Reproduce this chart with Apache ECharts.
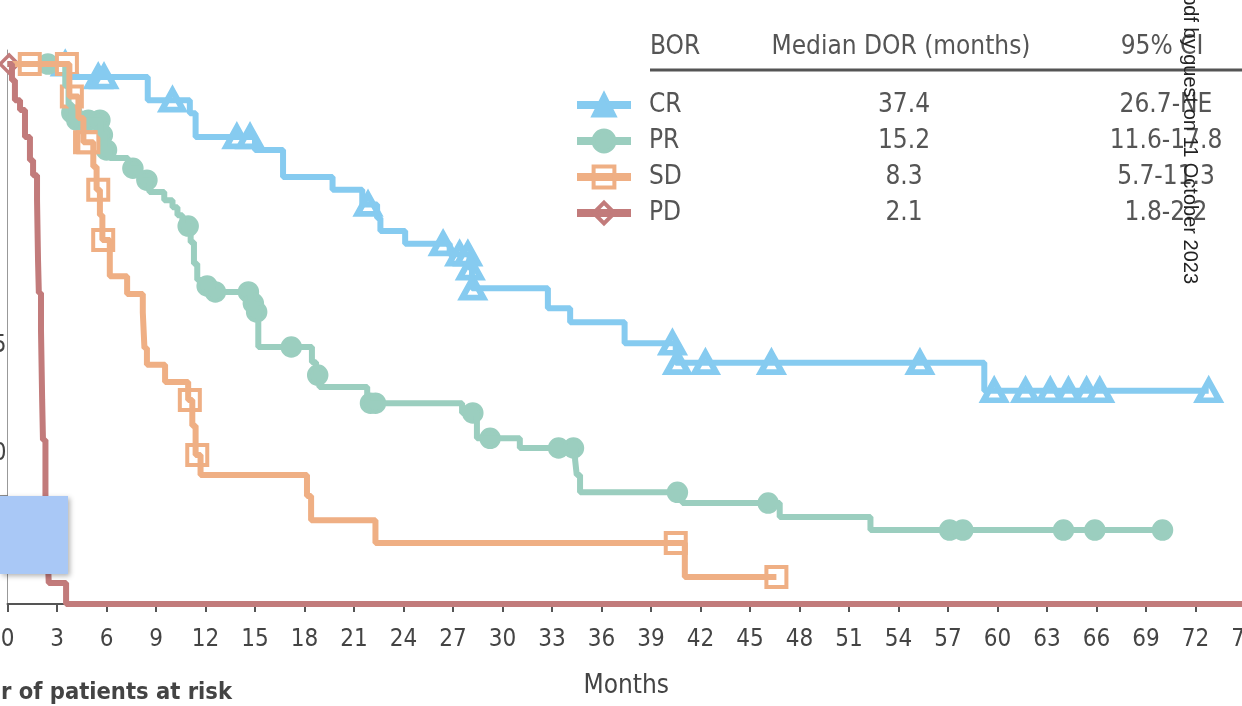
<!DOCTYPE html>
<html>
<head>
<meta charset="utf-8">
<script src="https://cdn.jsdelivr.net/npm/echarts@6/dist/echarts.min.js"></script>
<style>
  html, body { margin: 0; padding: 0; background: #ffffff; }
  #chart { width: 1242px; height: 706px; }
</style>
</head>
<body>
<div id="chart"></div>
<script>
// Duration of response by best overall response (Kaplan–Meier)
const FONT = '"DejaVu Sans Condensed", "DejaVu Sans", sans-serif';

const groups = ['CR', 'PR', 'SD', 'PD'];
const medianDOR = ['37.4', '15.2', '8.3', '2.1'];
const ciDOR = ['26.7-NE', '11.6-17.8', '5.7-11.3', '1.8-2.2'];
const tableHeaders = ['BOR', 'Median DOR (months)', '95% CI'];

// x axis: months
const xMin = 0, xMax = 75, xStep = 3;
// y axis: probability (axis drawn slightly beyond 0..1)
const yMin = -0.011, yMax = 1.026;
const yTickValues = [0.2];
const yLabelValues = [0.5, 0.3];
const yLabelTexts = ['0.5', '0.30'];

// step curves: time of each change (months) and survival from that time
const crTimes = [0, 3.65, 8.5, 11.05, 11.4, 15.0, 16.7, 19.7, 21.5, 22.4, 22.6, 24.1, 26.8, 28.0, 28.15, 32.75, 34.1, 37.4, 40.5, 59.2, 72.8];
const crSurv  = [1.0, 0.976, 0.933, 0.909, 0.865, 0.841, 0.791, 0.767, 0.740, 0.715, 0.691, 0.667, 0.648, 0.622, 0.585, 0.548, 0.522, 0.483, 0.447, 0.395, 0.395];
const crCensTimes = [3.5, 5.5, 5.85, 10.0, 13.9, 14.7, 21.85, 26.4, 27.4, 27.9, 28.05, 28.2, 40.3, 40.6, 42.3, 46.3, 55.3, 59.8, 61.7, 63.2, 64.3, 65.4, 66.2, 72.8];
const crCensSurv  = [1.0, 0.976, 0.976, 0.933, 0.865, 0.865, 0.740, 0.667, 0.648, 0.648, 0.622, 0.585, 0.483, 0.447, 0.447, 0.447, 0.447, 0.395, 0.395, 0.395, 0.395, 0.395, 0.395, 0.395];

const prTimes = [0, 3.5, 3.7, 3.9, 5.65, 5.9, 6.2, 7.3, 8.0, 8.6, 9.5, 10.0, 10.3, 10.6, 11.1, 11.3, 11.5, 12.0, 12.4, 14.75, 15.0, 15.2, 18.45, 18.7, 18.9, 21.8, 27.55, 28.45, 31.05, 34.4, 34.5, 34.7, 40.9, 46.8, 52.3, 70.0];
const prSurv  = [1.0, 0.96, 0.925, 0.896, 0.869, 0.841, 0.826, 0.807, 0.785, 0.763, 0.748, 0.735, 0.72, 0.70, 0.67, 0.63, 0.60, 0.589, 0.578, 0.557, 0.541, 0.476, 0.448, 0.424, 0.402, 0.372, 0.354, 0.307, 0.289, 0.267, 0.239, 0.207, 0.187, 0.161, 0.137, 0.137];
const prCensTimes = [1.4, 2.45, 3.9, 4.2, 4.9, 5.6, 5.75, 6.0, 7.6, 8.45, 10.95, 12.1, 12.6, 14.6, 14.9, 15.1, 17.2, 18.8, 22.0, 22.3, 28.2, 29.25, 33.4, 34.3, 40.6, 46.1, 57.1, 57.9, 64.0, 65.9, 70.0];
const prCensSurv  = [1.0, 1.0, 0.91, 0.896, 0.896, 0.896, 0.869, 0.841, 0.807, 0.785, 0.70, 0.589, 0.578, 0.578, 0.557, 0.541, 0.476, 0.424, 0.372, 0.372, 0.354, 0.307, 0.289, 0.289, 0.207, 0.187, 0.137, 0.137, 0.137, 0.137, 0.137];

const sdTimes = [0, 3.75, 4.3, 4.6, 5.2, 5.4, 5.6, 5.75, 6.2, 7.25, 8.2, 8.3, 8.45, 9.55, 10.95, 11.2, 11.4, 11.7, 18.15, 18.4, 22.3, 41.05, 46.6];
const sdSurv  = [1.0, 0.94, 0.90, 0.855, 0.81, 0.767, 0.72, 0.674, 0.607, 0.574, 0.54, 0.474, 0.443, 0.411, 0.378, 0.33, 0.276, 0.239, 0.20, 0.155, 0.113, 0.05, 0.05];
const sdCensTimes = [1.35, 3.6, 3.9, 4.7, 4.9, 5.5, 5.8, 11.05, 11.5, 40.5, 46.6];
const sdCensSurv  = [1.0, 1.0, 0.94, 0.855, 0.855, 0.767, 0.674, 0.378, 0.276, 0.113, 0.05];

const pdTimes = [0, 0.27, 0.45, 0.76, 1.06, 1.36, 1.55, 1.79, 1.85, 1.9, 2.03, 2.1, 2.15, 2.3, 2.45, 2.5, 3.55, 75];
const pdSurv  = [1.0, 0.97, 0.933, 0.915, 0.865, 0.822, 0.794, 0.748, 0.637, 0.576, 0.507, 0.378, 0.304, 0.193, 0.081, 0.039, 0.0, 0.0];
const pdCensTimes = [0.1];
const pdCensSurv  = [1.0];

const colors = { CR: '#86CBF0', PR: '#9BCEBF', SD: '#EFAF84', PD: '#C27B7B' };
const symbols = { CR: 'triangle', PR: 'circle', SD: 'rect', PD: 'diamond' };
// marker fill: censor marks sit under the step line, so hollow shapes show the line through them
const censorFill = { CR: '#ffffff', PR: null, SD: '#ffffff', PD: '#ffffff' };
const censorSize = { CR: [21, 19], PR: 18, SD: 20, PD: 18 };
const censorBorder = { CR: 6, PR: 3.5, SD: 4, PD: 3.5 };
const legendFill = { CR: null, PR: null, SD: 'rgba(255,255,255,0)', PD: 'rgba(255,255,255,0)' };

const curves = {
  CR: [crTimes, crSurv, crCensTimes, crCensSurv],
  PR: [prTimes, prSurv, prCensTimes, prCensSurv],
  SD: [sdTimes, sdSurv, sdCensTimes, sdCensSurv],
  PD: [pdTimes, pdSurv, pdCensTimes, pdCensSurv]
};

const zip = (a, b) => a.map((v, i) => [v, b[i]]);

const series = [];
groups.forEach((g) => {
  const [t, s] = curves[g];
  series.push({
    name: g,
    type: 'line',
    step: 'end',
    data: zip(t, s),
    showSymbol: false,
    symbol: symbols[g],
    symbolSize: 22,
    lineStyle: { color: colors[g], width: 6 },
    itemStyle: {
      color: legendFill[g] || colors[g],
      borderColor: colors[g],
      borderWidth: 4
    },
    emphasis: { disabled: true },
    z: 3
  });
});
groups.forEach((g) => {
  const [, , ct, cs] = curves[g];
  series.push({
    name: g + ' censored',
    type: 'scatter',
    data: zip(ct, cs),
    symbol: symbols[g],
    symbolSize: censorSize[g],
    itemStyle: {
      color: censorFill[g] || colors[g],
      borderColor: colors[g],
      borderWidth: censorBorder[g],
      opacity: 1
    },
    emphasis: { disabled: true },
    z: 2
  });
});

const chart = echarts.init(document.getElementById('chart'), null, { renderer: 'canvas' });

chart.setOption({
  animation: false,
  backgroundColor: '#ffffff',
  textStyle: { fontFamily: FONT },
  grid: { left: 7.5, right: -3, top: 50, bottom: 96, containLabel: false, outerBoundsMode: 'none' },
  xAxis: {
    type: 'value',
    min: xMin, max: xMax, interval: xStep,
    name: 'Months',
    nameLocation: 'middle',
    nameGap: 63,
    nameTextStyle: { fontFamily: FONT, fontSize: 26, color: '#444' },
    axisLine: { show: true, lineStyle: { color: '#555', width: 2 } },
    axisTick: { show: true, length: 8, lineStyle: { color: '#555', width: 2 } },
    axisLabel: { fontFamily: FONT, fontSize: 24, color: '#444', margin: 18, hideOverlap: false },
    splitLine: { show: false }
  },
  yAxis: {
    type: 'value',
    min: yMin, max: yMax,
    axisLine: { show: true, lineStyle: { color: '#999', width: 1 } },
    axisTick: { show: true, customValues: yTickValues, length: 8, lineStyle: { color: '#666', width: 1.5 } },
    axisLabel: {
      show: true,
      customValues: yLabelValues,
      formatter: (v) => yLabelTexts[yLabelValues.indexOf(v)],
      fontFamily: FONT, fontSize: 24, color: '#444', margin: 1,
      verticalAlign: 'top'
    },
    splitLine: { show: false }
  },
  legend: {
    data: groups,
    orient: 'vertical',
    left: 568,
    top: 87,
    itemWidth: 54,
    itemHeight: 26,
    itemGap: 10,
    selectedMode: false,
    lineStyle: { width: 8 },
    itemStyle: { borderWidth: 4 },
    formatter: (name) => {
      const i = groups.indexOf(name);
      return '{n|' + name + '}{m|' + medianDOR[i] + '}{c|' + ciDOR[i] + '}';
    },
    textStyle: {
      fontFamily: FONT,
      fontSize: 26,
      color: '#555',
      rich: {
        n: { fontFamily: FONT, fontSize: 26, color: '#555', width: 145, padding: [0, 0, 0, 13] },
        m: { fontFamily: FONT, fontSize: 26, color: '#555', width: 220, align: 'center' },
        c: { fontFamily: FONT, fontSize: 26, color: '#555', width: 304, align: 'center' }
      }
    }
  },
  graphic: [
    { type: 'text', x: 650, y: 47, style: { text: tableHeaders[0], font: '26px ' + FONT, fill: '#555', textAlign: 'left', textVerticalAlign: 'middle' }, z: 10 },
    { type: 'text', x: 901, y: 47, style: { text: tableHeaders[1], font: '26px ' + FONT, fill: '#555', textAlign: 'center', textVerticalAlign: 'middle' }, z: 10 },
    { type: 'text', x: 1162, y: 47, style: { text: tableHeaders[2], font: '26px ' + FONT, fill: '#555', textAlign: 'center', textVerticalAlign: 'middle' }, z: 10 },
    { type: 'line', shape: { x1: 650, y1: 70, x2: 1242, y2: 70 }, style: { stroke: '#555', lineWidth: 3 }, z: 10 },
    {
      type: 'text', x: 1190, y: 284, rotation: -Math.PI / 2,
      style: { text: 'pdf by guest on 11 October 2023', font: '20px "Liberation Sans", Arial, sans-serif', fill: '#222', textAlign: 'right', textVerticalAlign: 'middle' },
      z: 20
    },
    {
      type: 'rect', shape: { x: 0, y: 496, width: 68, height: 78 },
      style: { fill: '#A9C8F6', shadowBlur: 5, shadowColor: 'rgba(0,0,0,0.3)', shadowOffsetX: 2, shadowOffsetY: 2 },
      z: 20
    },
    {
      type: 'text', x: 232, y: 693,
      style: { text: 'Number of patients at risk', font: 'bold 23.5px ' + FONT, fill: '#444', textAlign: 'right', textVerticalAlign: 'middle' },
      z: 10
    }
  ],
  series: series
});
</script>
</body>
</html>
